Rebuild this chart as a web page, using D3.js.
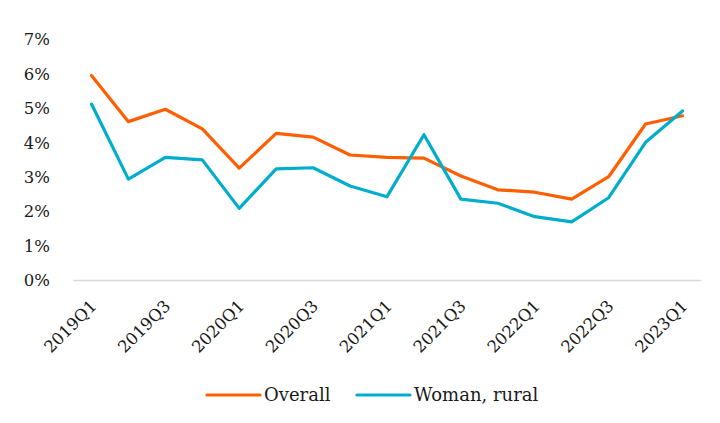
<!DOCTYPE html>
<html>
<head>
<meta charset="utf-8">
<script src="https://cdn.jsdelivr.net/npm/d3@7"></script>
<style>
  body { margin: 0; background: #fff; }
  text { font-family: "DejaVu Serif", serif; fill: #1a1a1a; }
</style>
</head>
<body>
<div id="chart"></div>
<script>
const quarters = ['2019Q1','2019Q2','2019Q3','2019Q4','2020Q1','2020Q2','2020Q3','2020Q4',
    '2021Q1','2021Q2','2021Q3','2021Q4','2022Q1','2022Q2','2022Q3','2022Q4','2023Q1'];
const overall = [5.94, 4.60, 4.96, 4.39, 3.25, 4.26, 4.15, 3.63, 3.56, 3.54, 3.02, 2.62, 2.55, 2.35, 3.00, 4.53, 4.77];
const womanRural = [5.11, 2.93, 3.56, 3.49, 2.08, 3.23, 3.26, 2.73, 2.42, 4.22, 2.35, 2.23, 1.84, 1.69, 2.39, 4.00, 4.91];
const yTicks = [0, 1, 2, 3, 4, 5, 6, 7];

const width = 720, height = 423;
const margin = {top: 39, right: 19, bottom: 143, left: 73};

let svg = d3.select('#chart').append('svg')
    .attr('width', width)
    .attr('height', height);

let x = d3.scaleBand()
    .domain(quarters)
    .range([margin.left, width - margin.right]);

let y = d3.scaleLinear()
    .domain([0, 7])
    .range([height - margin.bottom, margin.top]);

// y axis labels, no line
let yAxis = svg.append('g')
    .attr('transform', `translate(${margin.left - 20},0)`)
    .call(d3.axisLeft(y).tickValues(yTicks).tickFormat(d => d + '%').tickSize(0));
yAxis.select('.domain').remove();
yAxis.selectAll('text').style('font-size', '16.5px').attr('dx', 0).attr('dy', '0.35em');

// x axis
let xAxis = svg.append('g')
    .attr('transform', `translate(0,${y(0)})`)
    .call(d3.axisBottom(x).tickValues(quarters.filter((d, i) => i % 2 === 0)).tickSize(0));
xAxis.select('.domain').attr('stroke', '#d9d9d9').attr('stroke-width', 1.5);
xAxis.selectAll('text')
    .style('font-size', '16.5px')
    .attr('text-anchor', 'end')
    .attr('dy', 0)
    .attr('transform', 'translate(4,25) rotate(-45)');

let line = d3.line()
    .x((d, i) => x(quarters[i]) + x.bandwidth() / 2)
    .y(d => y(d));

let series = [
    {name: 'Overall', values: overall, color: '#ff5f00'},
    {name: 'Woman, rural', values: womanRural, color: '#00aecb'}
];

svg.append('g')
    .selectAll('path')
    .data(series)
    .enter().append('path')
    .attr('fill', 'none')
    .attr('stroke', d => d.color)
    .attr('stroke-width', 3.2)
    .attr('stroke-linejoin', 'round')
    .attr('stroke-linecap', 'round')
    .attr('d', d => line(d.values));

// legend
let legendX = [207, 357];
let legend = svg.append('g')
    .selectAll('g')
    .data(series)
    .enter().append('g')
    .attr('transform', (d, i) => `translate(${legendX[i]},395)`);
legend.append('line')
    .attr('x1', 0).attr('x2', 53)
    .attr('stroke', d => d.color)
    .attr('stroke-width', 3.2)
    .attr('stroke-linecap', 'round');
legend.append('text')
    .attr('x', 57)
    .attr('dy', '0.35em')
    .style('font-size', '18px')
    .text(d => d.name);
</script>
</body>
</html>
